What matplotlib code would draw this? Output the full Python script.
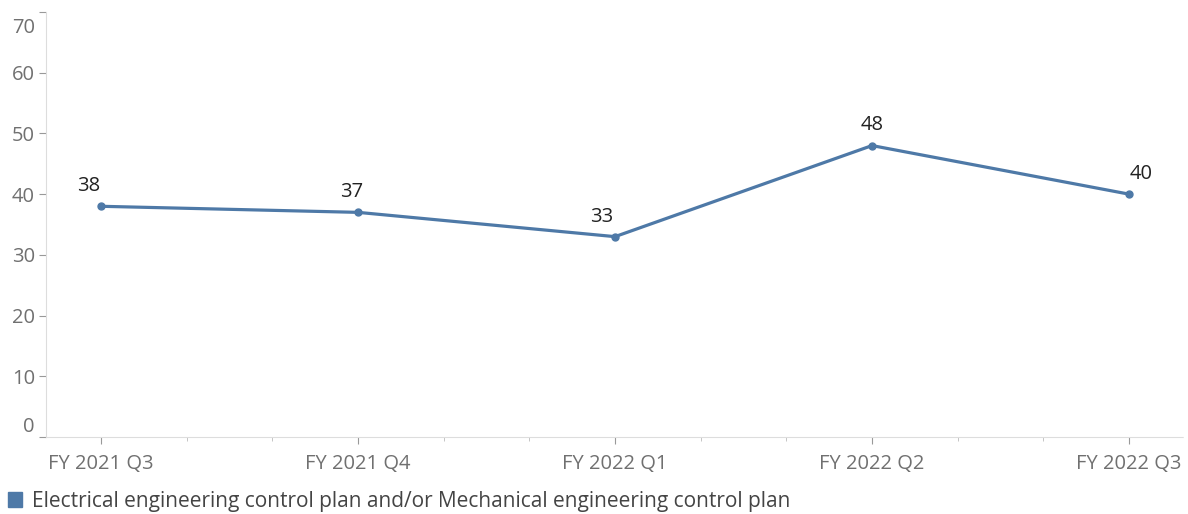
import matplotlib.pyplot as plt
import matplotlib.transforms as mtrans
import numpy as np

plt.rcParams['font.family'] = ['Open Sans', 'DejaVu Sans']

quarters = ["FY 2021 Q3", "FY 2021 Q4", "FY 2022 Q1", "FY 2022 Q2", "FY 2022 Q3"]
values = [38, 37, 33, 48, 40]
series_name = "Electrical engineering control plan and/or Mechanical engineering control plan"
yticks = [0, 10, 20, 30, 40, 50, 60, 70]

# label nudges in pixels (tableau moves them off the line)
label_dx = [-12, -6, -13, 0, 12]

blue = "#4e79a7"
grey = "#707070"

fig = plt.figure(figsize=(11.88, 5.14), dpi=100)
ax = fig.add_axes([46/1188, 1-437/514, (1183-46)/1188, (437-12)/514])

x = np.arange(len(quarters))
ax.plot(x, values, color=blue, lw=2.3, marker='o', ms=5, zorder=3)
for xi, v, dx in zip(x, values, label_dx):
    ax.annotate(str(v), (xi, v), xytext=(dx*0.72, 14.5), textcoords='offset points',
                ha='center', va='center', fontsize=14.5, color='#222222')

ax.set_xlim(-0.214, 4.21)
ax.set_ylim(0, 70)

ax.set_xticks(x)
ax.set_xticklabels(quarters)
ax.set_xticks([i + k/3 for i in range(-1, 5) for k in (1, 2)
               if -0.214 < i + k/3 < 4.21], minor=True)
ax.tick_params(axis='x', which='major', length=5, color='#999999', labelsize=14.5,
               labelcolor=grey, pad=7.5)
ax.tick_params(axis='x', which='minor', length=3, color='#bbbbbb')

ax.set_yticks(yticks)
ax.set_yticklabels([str(t) for t in yticks])
ax.tick_params(axis='y', length=5, color='#999999', labelsize=14.5, labelcolor=grey, pad=3)
labs = ax.get_yticklabels()
labs[0].set_va('bottom')
labs[-1].set_va('top')
labs[-1].set_transform(labs[-1].get_transform() +
                       mtrans.ScaledTranslation(0, -4/72, fig.dpi_scale_trans))

for s in ['top', 'right']:
    ax.spines[s].set_visible(False)
ax.spines['left'].set_color('#dddddd')
ax.spines['bottom'].set_color('#dddddd')
ax.spines['bottom'].set_linestyle((0, (1, 1)))

fig.patches.append(plt.Rectangle((8/1188, 1-507/514), 14/1188, 15/514,
                                 transform=fig.transFigure, color=blue))
fig.text(32/1188, 1-501/514, series_name, fontsize=15, color='#444444', va='center')

fig.savefig("out.png", dpi=100)
